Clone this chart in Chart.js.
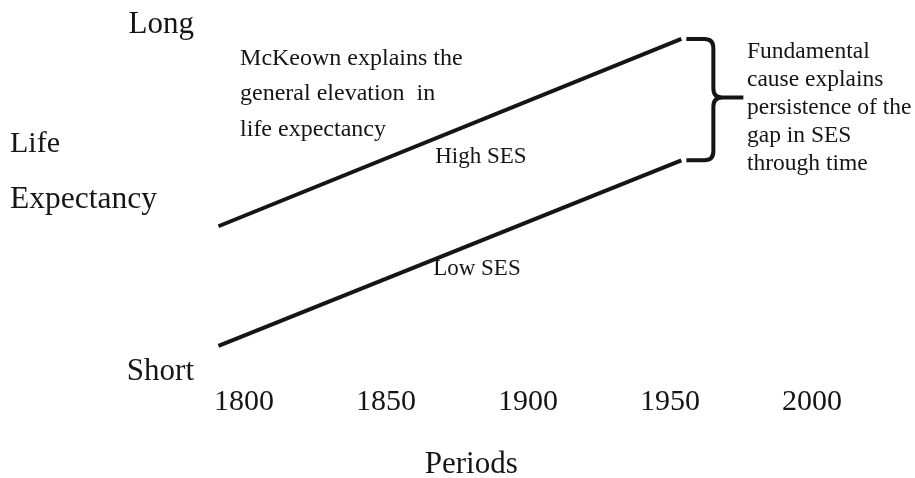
<!DOCTYPE html>
<html>
<head>
<meta charset="utf-8">
<script src="https://cdn.jsdelivr.net/npm/chart.js@4.4.1/dist/chart.umd.min.js"></script>
<style>
  html, body { margin: 0; padding: 0; background: #fff; }
</style>
</head>
<body>
<canvas id="chart" width="915" height="478"></canvas>
<script>
// data (y is a 0..100 "life expectancy" index, Short..Long)
const years = [1800, 1850, 1900, 1950, 2000];
const periods = [1791, 1954];
const highSES = [42, 96];
const lowSES = [7.5, 61];
const yLabels = ['Short', 'Long'];

const serif = '"Liberation Serif", "Times New Roman", serif';
const ink = '#151515';

function points(ys) {
    return periods.map((p, i) => ({ x: p, y: ys[i] }));
}

function drawText(ctx, str, px, py, size) {
    ctx.font = size + 'px ' + serif;
    ctx.fillText(str, px, py);
}

const notes = {
    id: 'notes',
    afterDatasetsDraw(chart) {
        const ctx = chart.ctx;
        const x = chart.scales.x, y = chart.scales.y;
        ctx.save();
        ctx.fillStyle = ink;
        ctx.strokeStyle = ink;
        ctx.textBaseline = 'alphabetic';
        ctx.textAlign = 'left';

        // brace between the two line ends
        const hi = chart.getDatasetMeta(0).data[1];
        const lo = chart.getDatasetMeta(1).data[1];
        const x0 = hi.x + 5, xv = hi.x + 32, xt = hi.x + 62, r = 9;
        const ym = (hi.y + lo.y) / 2 - 2;
        ctx.lineWidth = 4;
        ctx.lineJoin = 'round';
        ctx.beginPath();
        ctx.moveTo(x0, hi.y);
        ctx.lineTo(xv - r, hi.y);
        ctx.quadraticCurveTo(xv, hi.y, xv, hi.y + r);
        ctx.lineTo(xv, ym - r);
        ctx.quadraticCurveTo(xv, ym, xv + r, ym);
        ctx.lineTo(xt, ym);
        ctx.moveTo(xv + r, ym);
        ctx.quadraticCurveTo(xv, ym, xv, ym + r);
        ctx.lineTo(xv, lo.y - r);
        ctx.quadraticCurveTo(xv, lo.y, xv - r, lo.y);
        ctx.lineTo(x0, lo.y);
        ctx.stroke();

        // left title
        drawText(ctx, 'Life', 10, 152, 30);
        drawText(ctx, 'Expectancy', 10, 208, 31.5);

        // x title
        ctx.textAlign = 'center';
        drawText(ctx, 'Periods', x.getPixelForValue(1880), 473, 31);
        ctx.textAlign = 'left';

        // McKeown note
        const mk = ['McKeown explains the', 'general elevation  in', 'life expectancy'];
        mk.forEach((s, i) => {
            drawText(ctx, s, x.getPixelForValue(1798.6), y.getPixelForValue(88.5) + i * 35.5, 24);
        });

        // fundamental cause note
        const fc = ['Fundamental', 'cause explains', 'persistence of the', 'gap in SES', 'through time'];
        fc.forEach((s, i) => {
            drawText(ctx, s, x.getPixelForValue(1977.1), y.getPixelForValue(90.5) + i * 28, 23.5);
        });

        drawText(ctx, 'High SES', x.getPixelForValue(1867.3), y.getPixelForValue(60.2), 23);
        drawText(ctx, 'Low SES', x.getPixelForValue(1866.6), y.getPixelForValue(28), 23);
        ctx.restore();
    }
};

new Chart(document.getElementById('chart'), {
    type: 'line',
    data: {
        datasets: [{
            label: 'High SES',
            data: points(highSES),
            borderColor: ink,
            borderWidth: 4,
            pointRadius: 0,
            fill: false,
            tension: 0
        }, {
            label: 'Low SES',
            data: points(lowSES),
            borderColor: ink,
            borderWidth: 4,
            pointRadius: 0,
            fill: false,
            tension: 0
        }]
    },
    options: {
        responsive: false,
        animation: false,
        layout: { padding: { top: 25, right: 32, left: 0, bottom: 0 } },
        plugins: {
            legend: { display: false },
            tooltip: { enabled: false }
        },
        scales: {
            x: {
                type: 'linear',
                min: 1784.5,
                max: 2025,
                afterBuildTicks: (axis) => { axis.ticks = years.map(v => ({ value: v })); },
                afterFit: (axis) => { axis.height = 106; },
                grid: { display: false, drawTicks: false },
                border: { display: false },
                ticks: {
                    autoSkip: false,
                    maxRotation: 0,
                    padding: 12,
                    color: ink,
                    font: { family: serif, size: 30 },
                    callback: (v) => String(v)
                }
            },
            y: {
                min: 0,
                max: 100,
                afterBuildTicks: (axis) => { axis.ticks = [{ value: 0 }, { value: 100 }]; },
                afterFit: (axis) => { axis.width = 200; },
                grid: { display: false, drawTicks: false },
                border: { display: false },
                ticks: {
                    padding: 6,
                    color: ink,
                    font: { family: serif, size: 31 },
                    callback: (v) => v === 0 ? yLabels[0] : yLabels[1]
                }
            }
        }
    },
    plugins: [notes]
});
</script>
</body>
</html>
